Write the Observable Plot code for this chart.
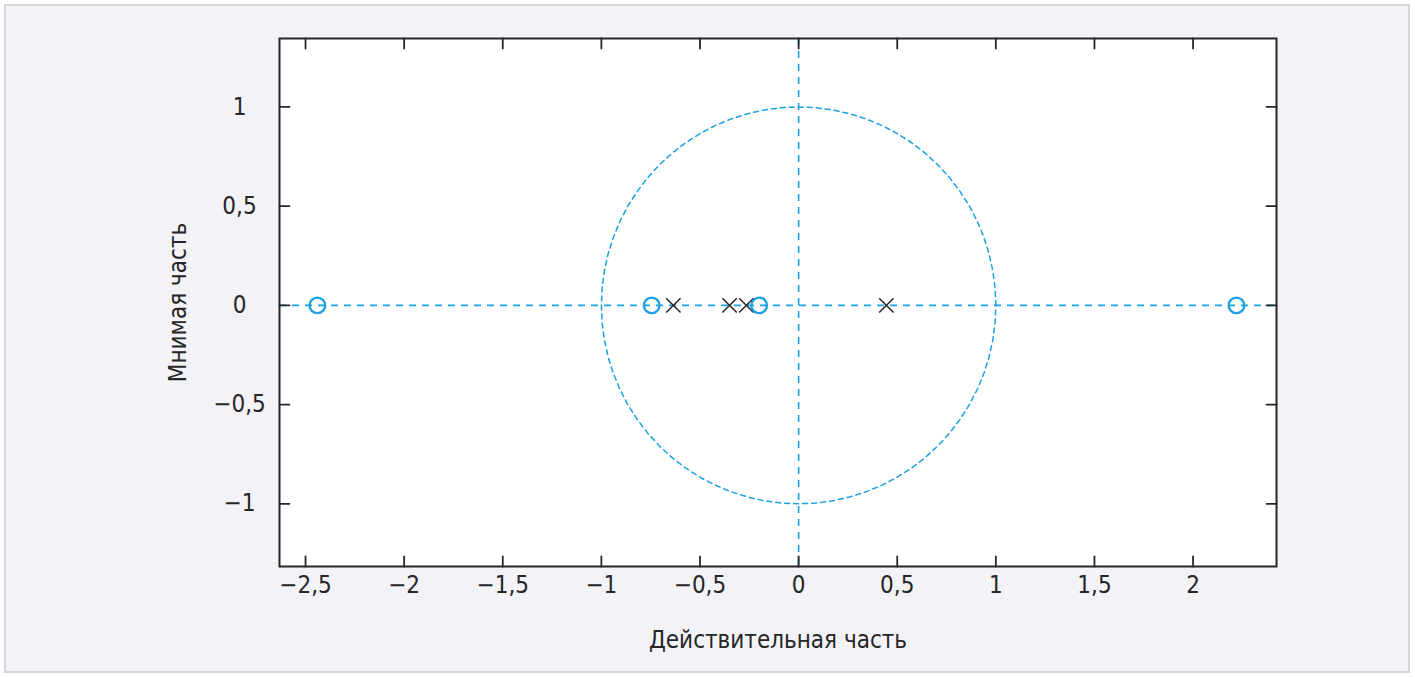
<!DOCTYPE html>
<html>
<head>
<meta charset="utf-8">
<script src="https://cdn.jsdelivr.net/npm/d3@7"></script>
<script src="https://cdn.jsdelivr.net/npm/@observablehq/plot@0.6"></script>
<style>
  html, body { margin: 0; padding: 0; background: #ffffff; }
  #wrap { position: relative; width: 1415px; height: 677px; overflow: hidden; }
  #panel { position: absolute; left: 4px; top: 4px; width: 1402px; height: 665px;
           background: #f2f2f7; border: 2px solid #d5d5d8; }
  #chart { position: absolute; left: 0; top: 0; }
</style>
</head>
<body>
<div id="wrap"><div id="panel"></div><div id="chart"></div></div>
<script>
// Zeros (blue circles) — real parts, imaginary parts
const zerosRe = [-2.44, -0.745, -0.2, 2.22];
const zerosIm = [0, 0, 0, 0];
// Poles (black crosses)
const polesRe = [-0.635, -0.35, -0.265, 0.445];
const polesIm = [0, 0, 0, 0];
// Axis ticks
const xTicks = [-2.5, -2, -1.5, -1, -0.5, 0, 0.5, 1, 1.5, 2];
const yTicks = [-1, -0.5, 0, 0.5, 1];
const xDomain = [-2.632, 2.423];
const yDomain = [-1.316, 1.345];
const xLabel = "Действительная часть";
const yLabel = "Мнимая часть";

const zeros = zerosRe.map((re, i) => ({re, im: zerosIm[i]}));
const poles = polesRe.map((re, i) => ({re, im: polesIm[i]}));
// unit circle reference curve (geometry, not data)
const unitCircle = d3.range(0, 73).map(k => {
  const a = (k / 72) * 2 * Math.PI;
  return {re: Math.cos(a), im: Math.sin(a)};
});

const blue = "#1ba1e2";
const ink = "#262626";
const font = "'Liberation Sans Narrow', 'DejaVu Sans Condensed', 'Roboto', sans-serif";
const fmt = d => String(d).replace(".", ",").replace("-", "\u2212");
const tickShape = {draw(context, l) { context.moveTo(0, 0); context.lineTo(0, -l); }};
const tickOpts = {length: 10, anchor: "start", shape: tickShape, stroke: ink, strokeWidth: 1.8};

const chart = Plot.plot({
  width: 1415,
  height: 677,
  marginLeft: 279,
  marginRight: 139,
  marginTop: 38,
  marginBottom: 111,
  style: {background: "transparent", fontFamily: font, fontSize: "24px", color: ink},
  x: {domain: xDomain},
  y: {domain: yDomain},
  marks: [
    Plot.frame({fill: "white", stroke: null}),
    Plot.ruleY([0], {stroke: blue, strokeWidth: 1.6, strokeDasharray: "7,6"}),
    Plot.ruleX([0], {stroke: blue, strokeWidth: 1.6, strokeDasharray: "7,6"}),
    Plot.line(unitCircle, {x: "re", y: "im", stroke: blue, strokeWidth: 1.5, strokeDasharray: "5,4"}),
    Plot.dot(poles, {x: "re", y: "im", symbol: "times", r: 6.6, stroke: ink, strokeWidth: 1.5}),
    Plot.dot(zeros, {x: "re", y: "im", r: 7.8, stroke: blue, strokeWidth: 2.3}),
    Plot.vector(xTicks, {x: d => d, frameAnchor: "bottom", rotate: 0, ...tickOpts}),
    Plot.vector(xTicks, {x: d => d, frameAnchor: "top", rotate: 180, ...tickOpts}),
    Plot.vector(yTicks, {y: d => d, frameAnchor: "left", rotate: 90, ...tickOpts}),
    Plot.vector(yTicks, {y: d => d, frameAnchor: "right", rotate: -90, ...tickOpts}),
    Plot.axisX(xTicks, {anchor: "bottom", tickSize: 0, tickPadding: 9, tickFormat: fmt, label: null, fill: ink}),
    Plot.axisY(yTicks, {anchor: "left", tickSize: 0, tickPadding: 40, tickFormat: fmt, textAnchor: "middle", label: null, fill: ink}),
    Plot.text([xLabel], {text: d => d, frameAnchor: "bottom", textAnchor: "middle", lineAnchor: "middle", dy: 74, fill: ink}),
    Plot.text([yLabel], {text: d => d, frameAnchor: "left", textAnchor: "middle", lineAnchor: "middle", dx: -101, rotate: -90, fill: ink}),
    Plot.frame({stroke: ink, strokeWidth: 2})
  ]
});
document.getElementById("chart").appendChild(chart);
</script>
</body>
</html>
